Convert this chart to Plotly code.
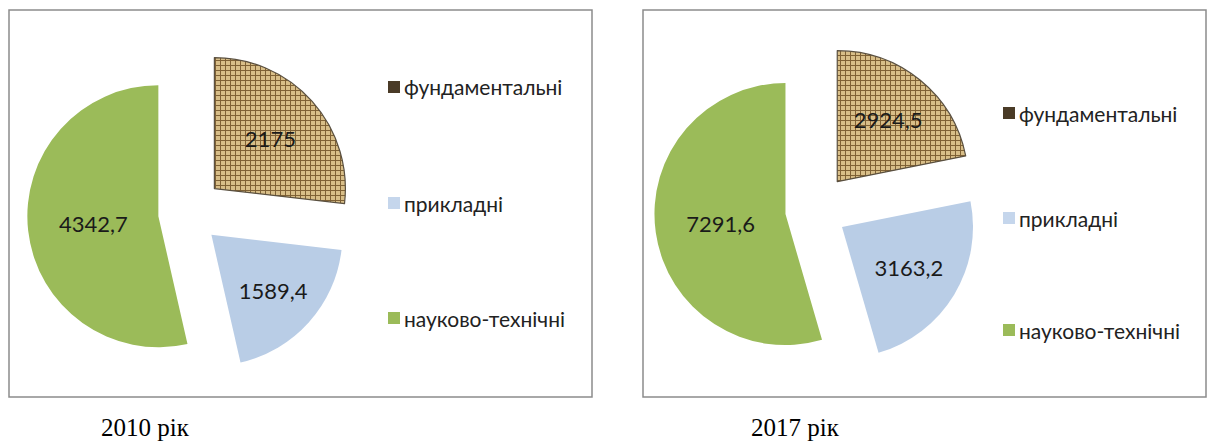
import plotly.graph_objects as go

categories = ["фундаментальні", "прикладні", "науково-технічні"]
values_2010 = [2175, 1589.4, 4342.7]
values_2017 = [2924.5, 3163.2, 7291.6]
captions = ["2010 рік", "2017 рік"]

# page has an 8px body margin; figure sized to fit the window
OFF = 8
W, H = 1215 - OFF, 444 - OFF
slice_colors = ["#C9AC74", "#B9CDE6", "#9BBB59"]
legend_colors = ["#4A3B27", "#C5D6EC", "#9BBB59"]
pull_2010 = [0.28, 0.25, 0.22]
pull_2017 = [0.28, 0.25, 0.22]


def px(x):
    return (x - OFF) / W


def py(y):
    return 1 - (y - OFF) / H


def fmt(v):
    return f"{v:g}".replace(".", ",")


def dom(cx, cy, half):
    return dict(x=[px(cx - half), px(cx + half)], y=[py(cy + half), py(cy - half)])


def pie(vals, pulls, domain):
    return go.Pie(
        labels=categories, values=vals, text=[fmt(v) for v in vals],
        textinfo="text", textposition="inside", insidetextorientation="horizontal",
        sort=False, direction="clockwise", rotation=0, pull=pulls,
        marker=dict(colors=slice_colors,
                    line=dict(color=["#5a5040", "rgba(0,0,0,0)", "rgba(0,0,0,0)"], width=[1.2, 0, 0]),
                    pattern=dict(shape=["+", "", ""], fgcolor=["#7d5f33", "#B9CDE6", "#9BBB59"],
                                 bgcolor=["#D8BE88", "#B9CDE6", "#9BBB59"], size=5, solidity=0.35)),
        textfont=dict(family="Lato, Open Sans, sans-serif", size=22, color="#1a1a1a"),
        showlegend=False, domain=domain, hoverinfo="label+text",
    )


fig = go.Figure()
fig.add_trace(pie(values_2010, pull_2010, dom(187, 213, 131 * 1.28)))
fig.add_trace(pie(values_2017, pull_2017, dom(814, 210, 131 * 1.28)))

shapes = []
annotations = []
boxes = [(9, 10, 592, 397), (643, 10, 1206, 397)]
for (x0, y0, x1, y1) in boxes:
    shapes.append(dict(type="rect", xref="paper", yref="paper",
                       x0=px(x0), x1=px(x1), y0=py(y1), y1=py(y0),
                       line=dict(color="#8c8c8c", width=1.5), fillcolor="rgba(0,0,0,0)", layer="below"))

legend_pos = [(394, [87, 203, 318]), (1009, [113, 218, 330])]
for lx, ys in legend_pos:
    for cat, col, y in zip(categories, legend_colors, ys):
        shapes.append(dict(type="rect", xref="paper", yref="paper",
                           x0=px(lx - 6), x1=px(lx + 6), y0=py(y + 6), y1=py(y - 6),
                           line=dict(width=0), fillcolor=col))
        annotations.append(dict(text=cat, xref="paper", yref="paper", x=px(lx + 8), y=py(y),
                                xanchor="left", yanchor="middle", showarrow=False,
                                font=dict(family="Lato, Open Sans, sans-serif", size=21, color="#222222")))

for cap, cx in zip(captions, [145, 795]):
    annotations.append(dict(text=cap, xref="paper", yref="paper", x=px(cx), y=py(427),
                            xanchor="center", yanchor="middle", showarrow=False,
                            font=dict(family="Liberation Serif, Times New Roman, serif", size=25, color="#000000")))

fig.update_layout(width=W, height=H, margin=dict(l=0, r=0, t=0, b=0),
                  paper_bgcolor="white", plot_bgcolor="white",
                  shapes=shapes, annotations=annotations)
fig.write_html("out.html")
